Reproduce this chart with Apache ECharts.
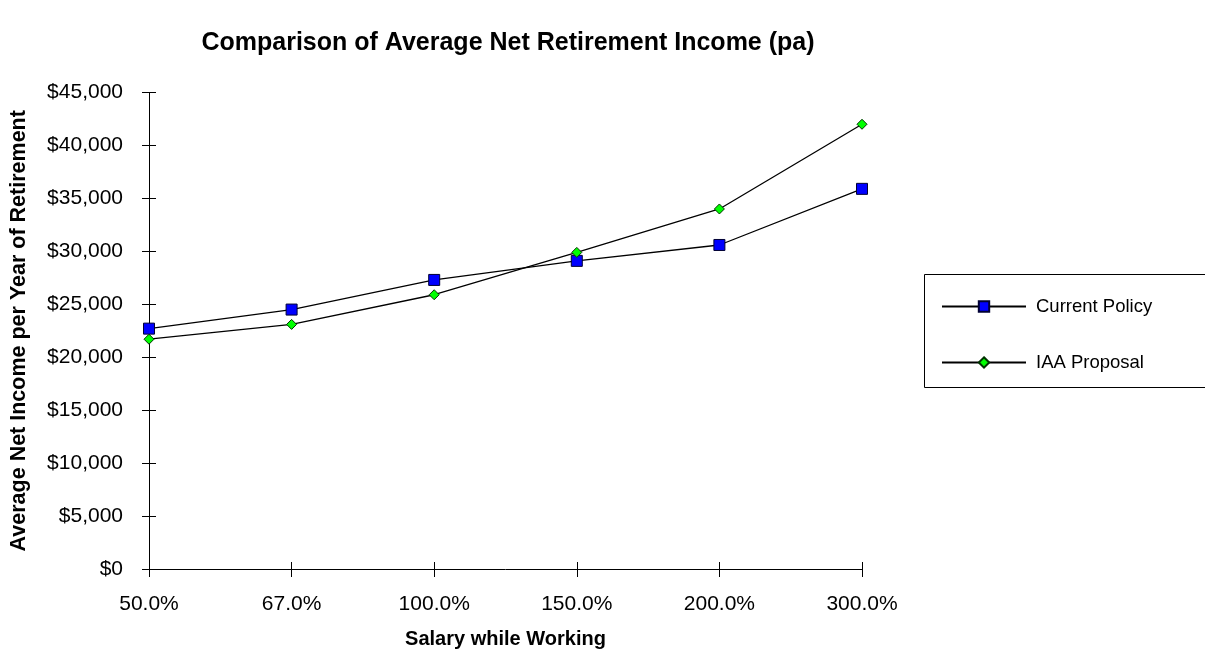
<!DOCTYPE html>
<html>
<head>
<meta charset="utf-8">
<title>Comparison of Average Net Retirement Income (pa)</title>
<script src="https://cdn.jsdelivr.net/npm/echarts@6/dist/echarts.min.js"></script>
<style>
  html, body { margin: 0; padding: 0; background: #fff; }
  #chart { width: 1205px; height: 657px; }
</style>
</head>
<body>
<div id="chart"></div>
<script>
// Salary levels (as % of average salary) on the category axis
const salaryLevels = ['50.0%', '67.0%', '100.0%', '150.0%', '200.0%', '300.0%'];

// Average net income per year of retirement, dollars
const currentPolicy = [22700, 24500, 27300, 29100, 30600, 35900];
const iaaProposal   = [21700, 23100, 25900, 29900, 34000, 42000];

// Value axis range and step
const yMin = 0;
const yMax = 45000;
const yStep = 5000;

const FONT = '"Liberation Sans", Arial, Helvetica, sans-serif';

const money = v => '$' + Math.round(v).toLocaleString('en-US');

const chart = echarts.init(document.getElementById('chart'), null, { renderer: 'canvas' });

chart.setOption({
  backgroundColor: '#ffffff',
  animation: false,
  textStyle: { fontFamily: FONT, color: '#000' },
  title: {
    text: 'Comparison of Average Net Retirement Income (pa)',
    left: 503,
    top: 26,
    textAlign: 'center',
    textStyle: { fontFamily: FONT, fontSize: 25, fontWeight: 'bold', color: '#000' }
  },
  grid: { left: 148, right: 343, top: 92.5, bottom: 88, containLabel: false },
  legend: {
    orient: 'vertical',
    left: 941,
    top: 297,
    padding: 0,
    itemWidth: 84,
    itemHeight: 13,
    itemGap: 37,
    textStyle: { fontFamily: FONT, fontSize: 18.5, color: '#000', padding: [0, 0, 0, 5] },
    data: ['Current Policy', 'IAA Proposal']
  },
  graphic: [{
    type: 'rect',
    shape: { x: 924.5, y: 274.5, width: 300, height: 113 },
    style: { fill: 'none', stroke: '#000', lineWidth: 1 },
    silent: true,
    z: -1
  }],
  xAxis: [{
    type: 'category',
    data: salaryLevels,
    boundaryGap: false,
    name: 'Salary while Working',
    nameLocation: 'middle',
    nameGap: 60,
    nameTextStyle: { fontFamily: FONT, fontSize: 20, fontWeight: 'bold', color: '#000' },
    axisLine: { lineStyle: { color: '#000', width: 1 } },
    axisTick: { show: true, inside: false, length: 8, lineStyle: { color: '#000' } },
    axisLabel: { margin: 25, fontFamily: FONT, fontSize: 21, color: '#000' },
    splitLine: { show: false }
  }, {
    type: 'category',
    data: salaryLevels,
    boundaryGap: false,
    position: 'bottom',
    axisLine: { show: false },
    axisTick: { show: true, inside: true, length: 7, lineStyle: { color: '#000' } },
    axisLabel: { show: false },
    splitLine: { show: false }
  }],
  yAxis: [{
    type: 'value',
    min: yMin,
    max: yMax,
    interval: yStep,
    name: 'Average Net Income per Year of Retirement',
    nameLocation: 'middle',
    nameGap: 119,
    nameTextStyle: { fontFamily: FONT, fontSize: 21.5, fontWeight: 'bold', color: '#000' },
    axisLine: { show: true, lineStyle: { color: '#000', width: 1 } },
    axisTick: { show: true, inside: false, length: 7, lineStyle: { color: '#000' } },
    axisLabel: { margin: 26, fontFamily: FONT, fontSize: 21, color: '#000', formatter: money },
    splitLine: { show: false }
  }, {
    type: 'value',
    min: yMin,
    max: yMax,
    interval: yStep,
    position: 'left',
    axisLine: { show: false },
    axisTick: { show: true, inside: true, length: 7, lineStyle: { color: '#000' } },
    axisLabel: { show: false },
    splitLine: { show: false }
  }],
  series: [{
    name: 'Current Policy',
    type: 'line',
    data: currentPolicy,
    symbol: 'rect',
    symbolSize: 11,
    lineStyle: { color: '#000', width: 1.3 },
    itemStyle: { color: '#0000ff', borderColor: '#000033', borderWidth: 1 },
    z: 3
  }, {
    name: 'IAA Proposal',
    type: 'line',
    data: iaaProposal,
    symbol: 'diamond',
    symbolSize: 10,
    lineStyle: { color: '#000', width: 1.3 },
    itemStyle: { color: '#00ff00', borderColor: '#003300', borderWidth: 1 },
    z: 4
  }]
});
</script>
</body>
</html>
